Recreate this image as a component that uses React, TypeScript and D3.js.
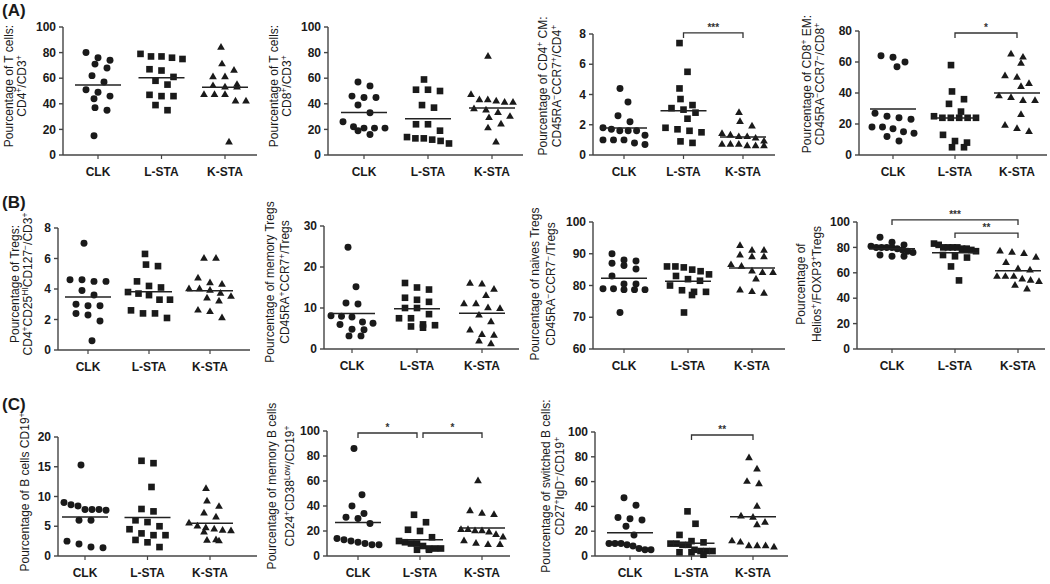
import * as d3 from 'd3';

const groups = ['CLK', 'L-STA', 'K-STA'];

// (A) T cells — one inner array per group: CLK, L-STA, K-STA
const cd4OfCd3 = [
  [80, 76, 74, 71, 68, 62, 57, 51, 49, 46, 44, 37, 35, 15],
  [79, 77, 75, 76, 77, 67, 66, 61, 58, 55, 47, 46, 46, 39, 35],
  [84, 71, 66, 61, 61, 55, 54, 53, 53, 47, 47, 47, 42, 42, 10],
];
const cd8OfCd3 = [
  [57, 54, 46, 45, 45, 39, 33, 26, 22, 21, 21, 21, 19, 16],
  [59, 51, 51, 50, 39, 37, 24, 24, 19, 14, 13, 13, 12, 11, 9],
  [77, 47, 43, 43, 42, 41, 41, 36, 35, 33, 30, 29, 24, 21, 10],
];
const cd4Cm = [
  [4.4, 3.5, 2.6, 2.2, 1.8, 1.7, 1.6, 1.6, 1.6, 1.3, 1.0, 1.0, 1.0, 0.7, 0.8],
  [7.4, 5.5, 4.4, 3.7, 3.3, 3.1, 3.0, 2.8, 2.4, 1.8, 1.7, 1.6, 1.5, 0.9, 0.8],
  [2.8, 2.2, 1.9, 1.4, 1.3, 1.2, 1.2, 1.1, 0.9, 0.7, 0.7, 0.7, 0.6, 0.6, 0.6],
];
const cd8Em = [
  [64, 63, 60, 57, 27, 25, 24, 23, 18, 18, 17, 15, 14, 12, 9],
  [58, 41, 36, 33, 28, 25, 24, 24, 24, 24, 24, 13, 9, 8, 5, 5],
  [65, 63, 59, 51, 50, 46, 44, 38, 37, 35, 35, 26, 19, 17, 15],
];

// (B) Tregs
const tregs = [
  [7.0, 4.6, 4.6, 4.5, 4.5, 3.9, 3.6, 3.0, 2.9, 2.9, 2.4, 2.3, 1.9, 0.6],
  [6.3, 5.6, 5.5, 4.5, 4.2, 4.1, 3.8, 3.7, 3.6, 3.3, 3.3, 2.6, 2.4, 2.4, 2.1],
  [6.0, 6.0, 4.7, 4.3, 4.4, 4.0, 4.0, 3.9, 3.7, 3.5, 3.4, 3.2, 2.6, 2.5, 2.1],
];
const memoryTregs = [
  [24.8, 15.2, 11.2, 11.0, 8.1, 8.0, 7.8, 6.6, 6.3, 6.0, 4.8, 4.7, 3.2, 3.2],
  [16.1, 15.0, 14.5, 12.5, 12.0, 11.5, 10.0, 10.0, 8.5, 7.5, 7.5, 6.0, 5.8, 5.5, 5.2],
  [16.0, 15.8, 14.5, 13.0, 11.0, 11.0, 10.0, 9.8, 8.2, 6.6, 4.6, 3.5, 3.3, 1.9, 1.2],
];
const naiveTregs = [
  [90, 88, 87.7, 87, 86.3, 85.2, 83, 80.5, 80.5, 79, 79, 78.7, 78.7, 78.7, 71.5],
  [86, 86, 85.7, 85, 84.5, 83.5, 83, 82, 81.5, 80, 78, 78, 78.5, 77, 71.5],
  [92.5, 91, 91, 89.5, 89, 89, 86.5, 86, 84.5, 84, 84, 82, 78.5, 78, 77.5],
];
const heliosTregs = [
  [88, 84, 82, 81, 80, 80, 80, 80, 79, 78, 77, 76, 74, 73, 73],
  [83, 82, 80, 80, 80, 80, 79, 79, 78, 77, 74, 73, 72, 65, 54],
  [77, 76, 75, 72, 68, 63, 62, 57, 57, 57, 55, 54, 53, 50, 47],
];

// (C) B cells
const bCells = [
  [15.3, 9.0, 8.6, 8.4, 7.8, 7.8, 7.7, 7.8, 6.0, 6.0, 2.5, 2.0, 1.5, 1.4],
  [16.0, 15.6, 11.6, 7.9, 7.5, 6.0, 5.7, 5.0, 4.5, 3.8, 3.5, 3.5, 2.7, 2.3, 1.5],
  [11.3, 9.2, 8.3, 7.2, 6.5, 5.5, 5.0, 4.7, 4.5, 4.3, 4.2, 4.0, 2.7, 2.6, 2.5],
];
const memoryB = [
  [86, 49, 40, 34, 31, 30, 26, 14, 13, 12, 11, 10, 9, 9],
  [33, 27, 21, 20, 15, 12, 11, 10, 10, 8, 6, 6, 6, 5, 5],
  [60, 36, 34, 33, 21, 21, 20, 20, 19, 17, 15, 12, 10, 9, 9],
];
const switchedB = [
  [47, 41, 31, 30, 29, 24, 17, 10, 10, 10, 9, 8, 6, 5, 5],
  [36, 26, 17, 12, 11, 10, 10, 9, 9, 5, 4, 4, 4, 3, 3, 1],
  [79, 70, 60, 58, 40, 32, 31, 27, 25, 12, 11, 8, 8, 8, 7],
];

const ticks100 = [0, 20, 40, 60, 80, 100];
const ticks80 = [0, 20, 40, 60, 80];
const ticks8 = [0, 2, 4, 6, 8];
const ticks30 = [0, 10, 20, 30];
const ticks60 = [60, 70, 80, 90, 100];
const ticks20 = [0, 5, 10, 15, 20];

type Bracket = { from: number; to: number; y: number; text: string };
type Panel = {
  values: number[][];
  ticks: number[];
  label: string[];
  brackets: Bracket[];
  // pixel layout
  x0: number; x1: number; g0: number; g2: number;
  yTop: number; yBottom: number;
  labelX: number[]; labelY: number;
};

const panels: Panel[] = [
  { values: cd4OfCd3, ticks: ticks100, label: ['Pourcentage of T cells:', 'CD4^+^/CD3^+^'], brackets: [],
    x0: 63, x1: 257, g0: 98, g2: 225, yTop: 27, yBottom: 155, labelX: [9, 22], labelY: 86 },
  { values: cd8OfCd3, ticks: ticks100, label: ['Pourcentage of T cells:', 'CD8^+^/CD3^+^'], brackets: [],
    x0: 328, x1: 523, g0: 364, g2: 492, yTop: 27, yBottom: 155, labelX: [274, 287], labelY: 86 },
  { values: cd4Cm, ticks: ticks8, label: ['Pourcentage of CD4^+^ CM:', 'CD45RA^−^CCR7^+^/CD4^+^'],
    brackets: [{ from: 1, to: 2, y: 8.07, text: '***' }],
    x0: 593, x1: 775, g0: 624, g2: 743, yTop: 34, yBottom: 155, labelX: [543, 557], labelY: 86 },
  { values: cd8Em, ticks: ticks80, label: ['Pourcentage of CD8^+^ EM:', 'CD45RA^−^CCR7^−^/CD8^+^'],
    brackets: [{ from: 1, to: 2, y: 78.7, text: '*' }],
    x0: 859, x1: 1047, g0: 893, g2: 1017, yTop: 31, yBottom: 155, labelX: [807, 820], labelY: 84 },
  { values: tregs, ticks: ticks8, label: ['Pourcentage of Tregs:', 'CD4^+^CD25^HI^CD127^−^/CD3^+^'], brackets: [],
    x0: 58, x1: 250, g0: 88, g2: 210, yTop: 228, yBottom: 350, labelX: [15, 28], labelY: 284 },
  { values: memoryTregs, ticks: ticks30, label: ['Pourcentage of memory Tregs', 'CD45RA^+^CCR7^+^/Tregs'], brackets: [],
    x0: 324, x1: 519, g0: 352, g2: 482, yTop: 226, yBottom: 349, labelX: [270, 285], labelY: 282 },
  { values: naiveTregs, ticks: ticks60, label: ['Pourcentage of naives Tregs', 'CD45RA^−^CCR7^−^/Tregs'], brackets: [],
    x0: 593, x1: 785, g0: 624, g2: 752, yTop: 222, yBottom: 349, labelX: [535, 551], labelY: 284 },
  { values: heliosTregs, ticks: ticks100, label: ['Pourcentage of', 'Helios^+^/FOXP3^+^Tregs'],
    brackets: [{ from: 0, to: 2, y: 101.6, text: '***' }, { from: 1, to: 2, y: 91.3, text: '**' }],
    x0: 857, x1: 1045, g0: 892, g2: 1018, yTop: 222, yBottom: 349, labelX: [801, 817], labelY: 284 },
  { values: bCells, ticks: ticks20, label: ['Pourcentage of B cells CD19^+^'], brackets: [],
    x0: 58, x1: 257, g0: 85, g2: 210, yTop: 437, yBottom: 556, labelX: [25], labelY: 492 },
  { values: memoryB, ticks: ticks100, label: ['Pourcentage of memory B cells', 'CD24^+^CD38^Low^/CD19^+^'],
    brackets: [{ from: 0, to: 1, y: 98.4, text: '*' }, { from: 1, to: 2, y: 98.4, text: '*' }],
    x0: 327, x1: 510, g0: 358, g2: 482, yTop: 431, yBottom: 556, labelX: [272, 290], labelY: 486 },
  { values: switchedB, ticks: ticks100, label: ['Pourcentage of switched B cells:', 'CD27^+^IgD^−^/CD19^+^'],
    brackets: [{ from: 1, to: 2, y: 97.6, text: '**' }],
    x0: 595, x1: 788, g0: 630, g2: 753, yTop: 432, yBottom: 556, labelX: [546, 560], labelY: 486 },
];

const letters = [
  { text: '(A)', x: 2, y: 16 },
  { text: '(B)', x: 2, y: 208 },
  { text: '(C)', x: 2, y: 410 },
];

const FONT = '"Liberation Sans", Arial, Helvetica, sans-serif';
const INK = '#1a1a1a';
const AXIS = '#444';
const shapes = [d3.symbolCircle, d3.symbolSquare, d3.symbolTriangle];
const shapeSizes = [38, 44, 26];

// Prism-like scatter: values close in height share a row and spread sideways
function swarm(vals: number[], y: d3.ScaleLinear<number, number>, cx: number) {
  const sorted = [...vals].sort((a, b) => b - a);
  const rows: number[][] = [];
  let cur: number[] = [];
  let start = 0;
  for (const v of sorted) {
    const py = y(v);
    if (cur.length && py - start > 8) {
      rows.push(cur);
      cur = [];
    }
    if (!cur.length) start = py;
    cur.push(v);
  }
  if (cur.length) rows.push(cur);
  const pts: { x: number; y: number }[] = [];
  rows.forEach((row, ri) => {
    const n = row.length;
    const step = n > 1 ? Math.min(12, 42 / (n - 1)) : 0;
    // lone points alternate a little to either side, as in the original
    const shift = n === 1 ? (ri % 2 === 0 ? -4 : 4) : n === 2 && ri % 2 === 1 ? 3 : 0;
    row.forEach((v, i) => pts.push({ x: cx + shift + (i - (n - 1) / 2) * step, y: y(v) }));
  });
  return pts;
}

function LabelLine({ text, x, y }: { text: string; x: number; y: number }) {
  const parts = text.split('^');
  return (
    <text
      transform={`translate(${x},${y}) rotate(-90)`}
      y={4}
      textAnchor="middle"
      fontSize={12}
      fontFamily={FONT}
      fill={INK}
    >
      {parts.map((p, i) => {
        const sup = i % 2 === 1;
        const prevSup = i > 0 && (i - 1) % 2 === 1;
        const dy = sup ? -4.5 : prevSup ? 4.5 : 0;
        return (
          <tspan key={i} dy={dy} fontSize={sup ? 8.5 : 12}>
            {p}
          </tspan>
        );
      })}
    </text>
  );
}

function ScatterPanel({ p }: { p: Panel }) {
  const domain = [p.ticks[0], p.ticks[p.ticks.length - 1]];
  const y = d3.scaleLinear().domain(domain).range([p.yBottom, p.yTop]);
  const x = d3.scalePoint<string>().domain(groups).range([p.g0, p.g2]);

  return (
    <g>
      {p.label.map((line, i) => (
        <LabelLine key={i} text={line} x={p.labelX[i]} y={p.labelY} />
      ))}

      {/* y axis */}
      <line x1={p.x0} x2={p.x0} y1={p.yTop} y2={p.yBottom} stroke={AXIS} strokeWidth={1.4} />
      {p.ticks.map((t) => (
        <g key={t} transform={`translate(0,${y(t)})`}>
          <line x1={p.x0 - 4} x2={p.x0} stroke={AXIS} strokeWidth={1.4} />
          <text
            x={p.x0 - 7}
            dy="0.35em"
            textAnchor="end"
            fontSize={12}
            fontWeight="bold"
            fontFamily={FONT}
            fill={INK}
          >
            {t}
          </text>
        </g>
      ))}

      {/* x axis */}
      <line x1={p.x0} x2={p.x1} y1={p.yBottom} y2={p.yBottom} stroke={AXIS} strokeWidth={1.4} />
      {groups.map((g) => (
        <g key={g}>
          <line x1={x(g)} x2={x(g)} y1={p.yBottom} y2={p.yBottom + 4} stroke={AXIS} strokeWidth={1.2} />
          <text
            x={x(g)}
            y={p.yBottom + 21}
            textAnchor="middle"
            fontSize={12}
            fontWeight="bold"
            fontFamily={FONT}
            fill={INK}
          >
            {g}
          </text>
        </g>
      ))}

      {/* points and mean lines */}
      {p.values.map((vals, gi) => {
        const cx = x(groups[gi]) ?? 0;
        const sym = d3.symbol().type(shapes[gi]).size(shapeSizes[gi])() ?? '';
        const mean = d3.mean(vals) ?? 0;
        return (
          <g key={gi}>
            {swarm(vals, y, cx).map((pt, i) => (
              <path key={i} d={sym} transform={`translate(${pt.x},${pt.y})`} fill={INK} />
            ))}
            <line x1={cx - 23} x2={cx + 23} y1={y(mean)} y2={y(mean)} stroke="#222" strokeWidth={1.5} />
          </g>
        );
      })}

      {/* significance brackets */}
      {p.brackets.map((b, i) => {
        const insetA = p.brackets.some((o) => o !== b && o.to === b.from) ? 3 : 0;
        const insetB = p.brackets.some((o) => o !== b && o.from === b.to) ? 3 : 0;
        const xa = (x(groups[b.from]) ?? 0) + insetA;
        const xb = (x(groups[b.to]) ?? 0) - insetB;
        const by = y(b.y);
        return (
          <g key={i}>
            <path d={`M${xa},${by + 5}V${by}H${xb}V${by + 5}`} fill="none" stroke="#333" strokeWidth={1.3} />
            <text
              x={(xa + xb) / 2}
              y={by - 2}
              textAnchor="middle"
              fontSize={10}
              fontWeight="bold"
              fontFamily={FONT}
              fill="#333"
            >
              {b.text}
            </text>
          </g>
        );
      })}
    </g>
  );
}

export default function App() {
  return (
    <svg
      width={1050}
      height={584}
      viewBox="0 0 1050 584"
      style={{ position: 'absolute', left: 0, top: 0, background: '#fff' }}
    >
      <rect width={1050} height={584} fill="#fff" />
      {letters.map((l) => (
        <text key={l.text} x={l.x} y={l.y} fontSize={17} fontWeight="bold" fontFamily={FONT} fill={INK}>
          {l.text}
        </text>
      ))}
      {panels.map((p, i) => (
        <ScatterPanel key={i} p={p} />
      ))}
    </svg>
  );
}
